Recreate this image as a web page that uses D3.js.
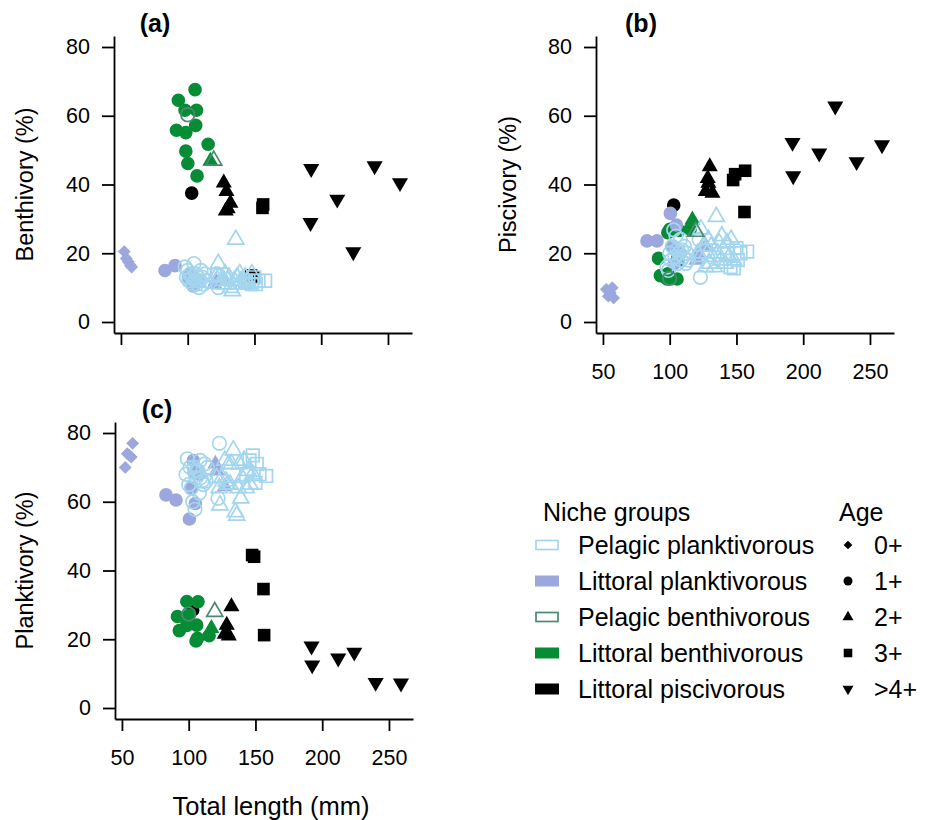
<!DOCTYPE html>
<html>
<head>
<meta charset="utf-8">
<script src="https://cdn.jsdelivr.net/npm/d3@7"></script>
<style>
  body { margin: 0; background: #fff; }
  svg { font-family: "Liberation Sans", Arial, Helvetica, sans-serif; }
</style>
</head>
<body>
<div id="chart"></div>
<script>
// ---- Data: each row is [total length (mm), age, benthivory %, piscivory %, planktivory %]
const ages = ['0+', '1+', '2+', '3+', '>4+'];
const nicheGroups = ['Pelagic planktivorous', 'Littoral planktivorous', 'Pelagic benthivorous', 'Littoral benthivorous', 'Littoral piscivorous'];

const littoralPiscivorous = [
  [103, '1+', 37.5, 34, 28.5],
  [127, '2+', 40.5, 38, 21.5],
  [129, '2+', 38, 40.4, 21.7],
  [132, '2+', 34.6, 37.5, 29.5],
  [130, '2+', 33, 45.2, 21],
  [128.5, '2+', 32.3, 41.8, 24.1],
  [147.5, '3+', 13.5, 41.3, 44.5],
  [149, '3+', 13, 43, 44],
  [156.5, '3+', 34.2, 44, 21.2],
  [156, '3+', 33.2, 32, 34.6],
  [192.5, '>4+', 44.6, 42.5, 12.5],
  [192, '>4+', 28.9, 52.2, 18],
  [212, '>4+', 35.7, 49.1, 14.5],
  [224, '>4+', 20.4, 62.8, 16.2],
  [240, '>4+', 45.4, 46.6, 7.4],
  [259, '>4+', 40.5, 51.5, 7.2]
];

const littoralBenthivorous = [
  [105.5, '1+', 67.6, 12.5, 19.5],
  [93, '1+', 64.5, 13.5, 22.5],
  [98, '1+', 61.6, 12.5, 26],
  [106.6, '1+', 61.6, 18, 20.3],
  [106, '1+', 57.2, 18.5, 24.1],
  [91.6, '1+', 55.8, 18.5, 26.6],
  [98.6, '1+', 55.1, 14, 31],
  [115.3, '1+', 51.7, 27, 21],
  [98.6, '1+', 49.7, 26, 24],
  [100.1, '1+', 46.1, 27, 27],
  [107, '1+', 42.5, 26.6, 30.9],
  [117, '2+', 46.8, 29.7, 23.2]
];

const pelagicBenthivorous = [
  [100, '1+', 60.3, 12.7, 27.3],
  [119.5, '2+', 47, 26.3, 28]
];

const littoralPlanktivorous = [
  [52.5, '0+', 20.5, 9.5, 70],
  [54, '0+', 18.5, 7.5, 74],
  [55.5, '0+', 17.5, 8.5, 73.5],
  [57, '0+', 16.5, 10, 73],
  [58, '0+', 16, 7, 77],
  [83, '1+', 15, 23.6, 62],
  [90.5, '1+', 16.4, 23.6, 60.5],
  [100.5, '1+', 13, 31.6, 55],
  [105, '1+', 12, 28.2, 59.5],
  [103.5, '1+', 11, 17, 72],
  [104, '1+', 10.5, 21, 68.5],
  [108, '1+', 12, 20, 68],
  [102, '1+', 14, 22, 64],
  [121, '2+', 12, 19.5, 69],
  [127, '2+', 12.5, 22, 64.4],
  [120, '2+', 11, 18, 71]
];

const pelagicPlanktivorous = [
  [98, '1+', 16, 16, 68],
  [99, '1+', 13, 15, 72.5],
  [100, '1+', 15, 20, 65],
  [101, '1+', 12, 18, 70],
  [102, '1+', 14, 22, 64],
  [103, '1+', 13, 26.8, 60],
  [104, '1+', 11, 19, 70],
  [104.7, '1+', 17, 25, 57.8],
  [105.5, '1+', 12, 21, 67],
  [106, '1+', 14, 17, 69],
  [107, '1+', 11, 20, 69],
  [108, '1+', 13, 24, 62.5],
  [108.5, '1+', 10, 18, 72],
  [109, '1+', 12, 21, 67],
  [110, '1+', 15, 19, 66],
  [111, '1+', 13, 22, 65],
  [112, '1+', 11, 17, 71],
  [113, '1+', 14, 20, 66],
  [114, '1+', 12, 18, 70],
  [122, '1+', 14, 24, 61],
  [123, '1+', 10, 13, 77],
  [121, '2+', 13, 20, 67],
  [122.9, '2+', 17, 19, 64],
  [123.4, '2+', 13, 27, 59],
  [125, '2+', 11, 22, 67],
  [127, '2+', 12, 16, 72],
  [128, '2+', 14, 20, 66],
  [129, '2+', 11, 24, 65],
  [130, '2+', 12, 17, 71],
  [131, '2+', 13, 22, 65],
  [132, '2+', 10, 19, 71],
  [133.4, '2+', 9, 16, 75],
  [134.9, '2+', 12, 30.6, 57],
  [136, '2+', 24, 20, 56],
  [137, '2+', 13, 23, 64],
  [138, '2+', 11, 18, 71],
  [139, '2+', 14, 25, 61],
  [140, '2+', 12, 21, 67],
  [141.5, '2+', 11, 17, 72],
  [143, '2+', 13, 23, 64],
  [144.5, '2+', 12, 19, 69],
  [146, '2+', 11, 24, 65],
  [148, '2+', 14, 18, 68],
  [143, '3+', 12, 20, 68],
  [145.5, '3+', 12, 16, 72],
  [148, '3+', 11, 15.6, 73.5],
  [150, '3+', 13, 21.5, 65.5],
  [151, '3+', 11, 18, 71],
  [153, '3+', 12, 20, 68],
  [158, '3+', 12, 20.5, 67.5]
];

const xTicks = [50, 100, 150, 200, 250];
const yTicks = [0, 20, 40, 60, 80];

// ---- Styles per niche group (draw order: first drawn is at the back)
const groupStyles = [
  { name: 'Littoral piscivorous',   rows: littoralPiscivorous,   color: '#000000', open: false },
  { name: 'Littoral benthivorous',  rows: littoralBenthivorous,  color: '#078c36', open: false },
  { name: 'Littoral planktivorous', rows: littoralPlanktivorous, color: '#9ba7dd', open: false },
  { name: 'Pelagic planktivorous',  rows: pelagicPlanktivorous,  color: '#a3d6ee', open: true },
  { name: 'Pelagic benthivorous',   rows: pelagicBenthivorous,   color: '#4b8a70', open: true }
];
const styleByName = Object.fromEntries(groupStyles.map(g => [g.name, g]));

// ---- Marker shapes (R-like pch), k scales the size
function shapePath(age, k) {
  const p = d3.path();
  if (age === '0+') {
    const r = 6.4 * k;
    p.moveTo(0, -r); p.lineTo(r, 0); p.lineTo(0, r); p.lineTo(-r, 0); p.closePath();
  } else if (age === '1+') {
    const r = 6.8 * k;
    p.arc(0, 0, r, 0, 2 * Math.PI);
  } else if (age === '2+') {
    const R = 9.3 * k;
    p.moveTo(0, -R); p.lineTo(R * Math.sqrt(3) / 2, R / 2); p.lineTo(-R * Math.sqrt(3) / 2, R / 2); p.closePath();
  } else if (age === '3+') {
    const h = 6.3 * k;
    p.rect(-h, -h, 2 * h, 2 * h);
  } else {
    const R = 9.3 * k;
    p.moveTo(0, R); p.lineTo(R * Math.sqrt(3) / 2, -R / 2); p.lineTo(-R * Math.sqrt(3) / 2, -R / 2); p.closePath();
  }
  return p.toString();
}

const width = 933, height = 820;
const svg = d3.select('#chart').append('svg')
  .attr('width', width).attr('height', height);

const xDomain = [44.8, 268];
const yDomain = [-3.2, 83.2];

const panels = [
  { col: 2, label: '(a)', title: 'Benthivory (%)',  left: 114, right: 412, top: 36,  bottom: 333, xLabels: false, labelX: 155, titleX: 25 },
  { col: 3, label: '(b)', title: 'Piscivory (%)',   left: 596, right: 894, top: 36,  bottom: 333, xLabels: true,  labelX: 641, titleX: 508 },
  { col: 4, label: '(c)', title: 'Planktivory (%)', left: 115, right: 413, top: 422, bottom: 719, xLabels: true,  labelX: 157, titleX: 25 }
];

panels.forEach(pn => {
  const x = d3.scaleLinear().domain(xDomain).range([pn.left, pn.right]);
  const y = d3.scaleLinear().domain(yDomain).range([pn.bottom, pn.top]);
  const g = svg.append('g');

  // ---- Axes
  const yAxis = g.append('g')
    .attr('transform', `translate(${pn.left},0)`)
    .call(d3.axisLeft(y).tickValues(yTicks).tickSize(12).tickSizeOuter(0).tickPadding(12));
  const xAxis = g.append('g')
    .attr('transform', `translate(0,${pn.bottom})`)
    .call(d3.axisBottom(x).tickValues(xTicks).tickSize(12).tickSizeOuter(0).tickPadding(19)
      .tickFormat(d => pn.xLabels ? d : ''));
  [xAxis, yAxis].forEach(a => {
    a.selectAll('path, line').attr('stroke', '#000').attr('stroke-width', 1.8);
    a.selectAll('text').attr('fill', '#000').style('font-size', '21.5px');
  });

  // ---- Panel letter and axis title
  g.append('text')
    .attr('x', pn.labelX).attr('y', pn.top - 4)
    .attr('text-anchor', 'middle')
    .style('font-size', '25px').style('font-weight', 'bold')
    .text(pn.label);
  g.append('text')
    .attr('transform', `translate(${pn.titleX},${(pn.top + pn.bottom) / 2}) rotate(-90)`)
    .attr('text-anchor', 'middle').attr('dy', '0.35em')
    .style('font-size', '23.5px')
    .text(pn.title);

  // ---- Marks
  groupStyles.forEach(gs => {
    g.append('g').selectAll('path')
      .data(gs.rows).join('path')
      .attr('transform', d => `translate(${x(d[0])},${y(d[pn.col])})`)
      .attr('d', d => shapePath(d[1], 1))
      .attr('fill', gs.open ? 'none' : gs.color)
      .attr('stroke', gs.open ? gs.color : 'none')
      .attr('stroke-width', gs.open ? 1.7 : 0);
  });
});

// ---- Shared x-axis title
svg.append('text')
  .attr('x', 271).attr('y', 815)
  .attr('text-anchor', 'middle')
  .style('font-size', '25.5px')
  .text('Total length (mm)');

// ---- Legend: niche groups
const legend = svg.append('g');
legend.append('text')
  .attr('x', 543).attr('y', 512).attr('dy', '0.35em')
  .style('font-size', '25px').text('Niche groups');
const rowY = d3.scalePoint().domain(nicheGroups).range([545, 689]);
nicheGroups.forEach(name => {
  const st = styleByName[name];
  legend.append('rect')
    .attr('x', st.open ? 536 : 535).attr('y', rowY(name) - (st.open ? 4.5 : 5.5))
    .attr('width', st.open ? 22 : 24).attr('height', st.open ? 9 : 11)
    .attr('fill', st.open ? 'none' : st.color)
    .attr('stroke', st.open ? st.color : 'none')
    .attr('stroke-width', st.open ? 1.7 : 0);
  legend.append('text')
    .attr('x', 578).attr('y', rowY(name)).attr('dy', '0.35em')
    .style('font-size', '25px').text(name);
});

// ---- Legend: age
legend.append('text')
  .attr('x', 839).attr('y', 512).attr('dy', '0.35em')
  .style('font-size', '25px').text('Age');
const ageY = d3.scalePoint().domain(ages).range([545, 689]);
ages.forEach(a => {
  legend.append('path')
    .attr('transform', `translate(848,${ageY(a)})`)
    .attr('d', shapePath(a, a === '1+' ? 0.66 : 0.68))
    .attr('fill', '#000');
  legend.append('text')
    .attr('x', 874).attr('y', ageY(a)).attr('dy', '0.35em')
    .style('font-size', '25px').text(a);
});
</script>
</body>
</html>
